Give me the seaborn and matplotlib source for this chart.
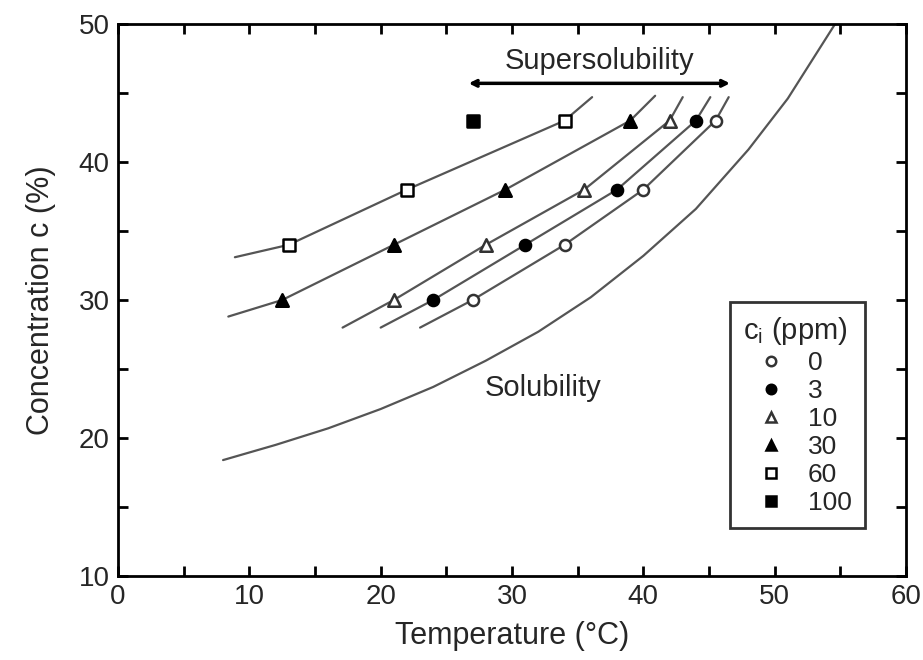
import numpy as np
import pandas as pd
import matplotlib
matplotlib.use("Agg")
import matplotlib.pyplot as plt
from matplotlib.ticker import MultipleLocator
import seaborn as sns

# ---- data ----
conc_levels = [30, 34, 38, 43]
temp_0ppm = [27.0, 34.0, 40.0, 45.5]
temp_3ppm = [24.0, 31.0, 38.0, 44.0]
temp_10ppm = [21.0, 28.0, 35.5, 42.0]
temp_30ppm = [12.5, 21.0, 29.5, 39.0]
temp_60ppm = [13.0, 22.0, 34.0]
conc_60ppm = [34, 38, 43]
temp_100ppm = [27.0]
conc_100ppm = [43]

# fitted supersolubility curves
curve_0_T = [23.0, 27.0, 34.0, 40.0, 45.5, 46.5]
curve_0_c = [28.0, 30.0, 34.0, 38.0, 43.0, 44.7]
curve_3_T = [20.0, 24.0, 31.0, 38.0, 44.0, 45.1]
curve_3_c = [28.0, 30.0, 34.0, 38.0, 43.0, 44.7]
curve_10_T = [17.1, 21.0, 28.0, 35.5, 42.0, 43.0]
curve_10_c = [28.0, 30.0, 34.0, 38.0, 43.0, 44.7]
curve_30_T = [8.4, 12.5, 21.0, 29.5, 39.0, 40.9]
curve_30_c = [28.8, 30.0, 34.0, 38.0, 43.0, 44.8]
curve_60_T = [8.9, 13.0, 22.0, 34.0, 36.1]
curve_60_c = [33.1, 34.0, 38.0, 43.0, 44.7]

# solubility curve
sol_T = [8.0, 12.0, 16.0, 20.0, 24.0, 28.0, 32.0, 36.0, 40.0, 44.0, 48.0, 51.0, 54.6]
sol_c = [18.4, 19.5, 20.7, 22.1, 23.7, 25.6, 27.7, 30.2, 33.2, 36.6, 40.9, 44.6, 50.0]

legend_labels = ["0", "3", "10", "30", "60", "100"]

# ---- plotting ----
sns.set_theme(style="white")
plt.rcParams["font.family"] = ["Liberation Sans", "DejaVu Sans"]
plt.rcParams["mathtext.fontset"] = "custom"
plt.rcParams["mathtext.rm"] = "Liberation Sans"
plt.rcParams["mathtext.it"] = "Liberation Sans"

fig = plt.figure(figsize=(9.23, 6.60), dpi=100)
ax = fig.add_axes([118 / 923, 1 - 576 / 660, (906 - 118) / 923, (576 - 24) / 660])

line_color = "#555555"
curves = [(curve_0_T, curve_0_c), (curve_3_T, curve_3_c), (curve_10_T, curve_10_c),
          (curve_30_T, curve_30_c), (curve_60_T, curve_60_c), (sol_T, sol_c)]
for cT, cc in curves:
    sns.lineplot(x=cT, y=cc, ax=ax, color=line_color, lw=1.6, sort=False,
                 estimator=None, legend=False)

series = [
    (temp_0ppm, conc_levels, "o", "white", "#333333", 8),
    (temp_3ppm, conc_levels, "o", "black", "black", 8),
    (temp_10ppm, conc_levels, "^", "white", "#333333", 9),
    (temp_30ppm, conc_levels, "^", "black", "black", 9),
    (temp_60ppm, conc_60ppm, "s", "white", "black", 8),
    (temp_100ppm, conc_100ppm, "s", "black", "black", 9),
]
handles = []
for (tx, cy, mk, fc, ec, ms), lab in zip(series, legend_labels):
    sns.scatterplot(x=tx, y=cy, ax=ax, marker=mk, s=ms ** 2, facecolor=fc,
                    edgecolor=ec, linewidth=1.8, zorder=5, legend=False)
    h, = ax.plot([], [], linestyle="none", marker=mk, markersize=ms * 0.85,
                 markerfacecolor=fc, markeredgecolor=ec, markeredgewidth=1.8)
    handles.append(h)

# annotations
ax.annotate("", xy=(26.7, 45.7), xytext=(46.6, 45.7),
            arrowprops=dict(arrowstyle="<->", color="black", lw=2.5,
                            mutation_scale=10, shrinkA=0, shrinkB=0))
ax.text(36.7, 47.3, "Supersolubility", ha="center", va="center", fontsize=21)
ax.text(32.4, 23.6, "Solubility", ha="center", va="center", fontsize=21)

ax.set_xlim(0, 60)
ax.set_ylim(10, 50)
ax.xaxis.set_major_locator(MultipleLocator(10))
ax.xaxis.set_minor_locator(MultipleLocator(5))
ax.yaxis.set_major_locator(MultipleLocator(10))
ax.yaxis.set_minor_locator(MultipleLocator(5))
ax.tick_params(which="both", direction="in", length=7, width=2, color="black",
               top=True, right=True, bottom=True, left=True, labelsize=20, pad=6)
for sp in ax.spines.values():
    sp.set_visible(True)
    sp.set_color("black")
    sp.set_linewidth(2)

ax.set_xlabel("Temperature (°C)", fontsize=22, labelpad=8)
ax.set_ylabel("Concentration c (%)", fontsize=22, labelpad=16)

leg = ax.legend(handles, legend_labels, title=r"c$_{\mathrm{i}}$ (ppm)",
                loc="upper left", bbox_to_anchor=((730 - 118) / 788, 1 - (302 - 24) / 552),
                frameon=True, fontsize=19, title_fontsize=21, handletextpad=0.35,
                handlelength=2.1, labelspacing=0.15, borderpad=0.5, fancybox=False,
                borderaxespad=0)
leg.get_frame().set_edgecolor("black")
leg.get_frame().set_linewidth(2)
leg._legend_box.align = "left"

fig.savefig("out.png", dpi=100, facecolor="white")
